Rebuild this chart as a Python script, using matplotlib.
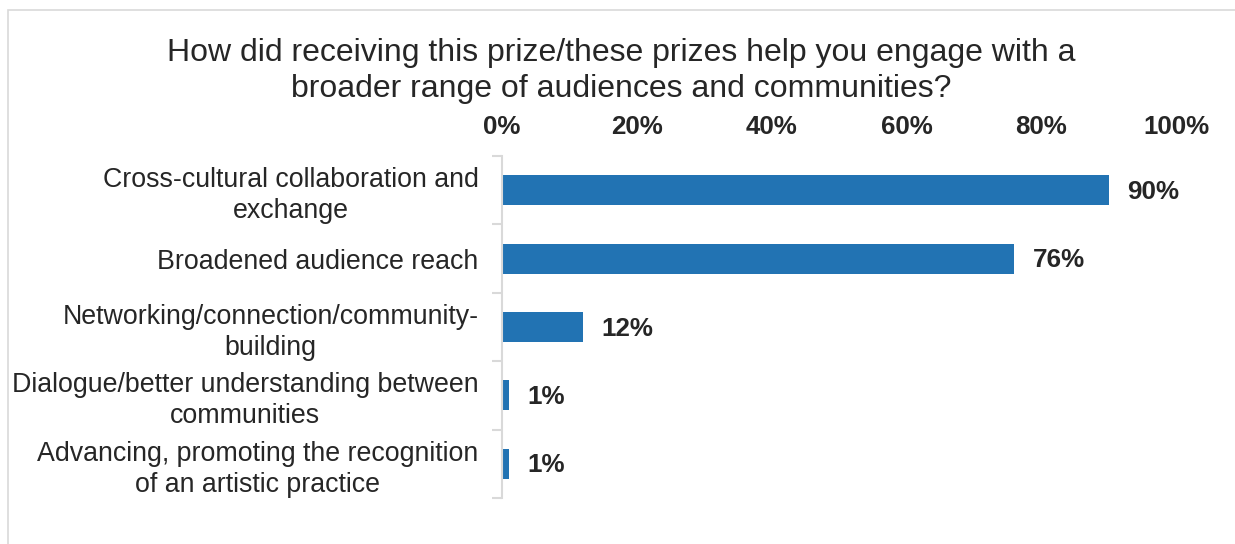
import numpy as np
import matplotlib.pyplot as plt
from matplotlib.patches import Rectangle

plt.rcParams['font.family'] = ['Liberation Sans', 'DejaVu Sans']

title = ("How did receiving this prize/these prizes help you engage with a\n"
         "broader range of audiences and communities?")
categories = [
    "Cross-cultural collaboration and\nexchange",
    "Broadened audience reach",
    "Networking/connection/community-\nbuilding",
    "Dialogue/better understanding between\ncommunities",
    "Advancing, promoting the recognition\nof an artistic practice",
]
shares = [90, 76, 12, 1, 1]
x_ticks = [0, 20, 40, 60, 80, 100]

bar_color = '#2273B3'
grey = '#d9d9d9'
text_color = '#262626'

fig = plt.figure(figsize=(12.35, 5.44), dpi=100)

# outer frame of the chart area
frame = Rectangle((8 / 1235, -0.1), 1.2, 1 - 10 / 544 + 0.1, transform=fig.transFigure,
                  fill=False, edgecolor=grey, linewidth=1.2)
fig.patches.append(frame)

fig.text(0.503, 1 - 71 / 544, title, ha='center', va='center', fontsize=23,
         color=text_color, linespacing=1.25)

ax = fig.add_axes([502 / 1235, 1 - 498 / 544, 674 / 1235, 342 / 544])

y = np.arange(len(categories))
ax.barh(y, shares, height=0.44, color=bar_color)

for yi, v in zip(y, shares):
    ax.annotate(f"{v}%", (v, yi), xytext=(13.5, -1.2), textcoords='offset points',
                ha='left', va='center', fontsize=18.7, fontweight='bold', color=text_color)

ax.set_xlim(0, 100)
ax.set_ylim(len(categories) - 0.5, -0.5)

ax.xaxis.tick_top()
ax.set_xticks(x_ticks)
ax.set_xticklabels([f"{t}%" for t in x_ticks], fontsize=18.6, fontweight='bold', color=text_color)
ax.tick_params(axis='x', length=0, pad=12.5)

ax.set_yticks(y)
ax.set_yticklabels(categories, fontsize=19.3, color=text_color, multialignment='center',
                   linespacing=1.25)
ax.set_yticks(np.arange(len(categories) + 1) - 0.5, minor=True)
ax.tick_params(axis='y', which='major', length=0, pad=17)
ax.tick_params(axis='y', which='minor', length=7, width=1.5, color=grey)

for side in ['top', 'right', 'bottom']:
    ax.spines[side].set_visible(False)
ax.spines['left'].set_color(grey)
ax.spines['left'].set_linewidth(1.5)

fig.savefig('out.png', dpi=100)
